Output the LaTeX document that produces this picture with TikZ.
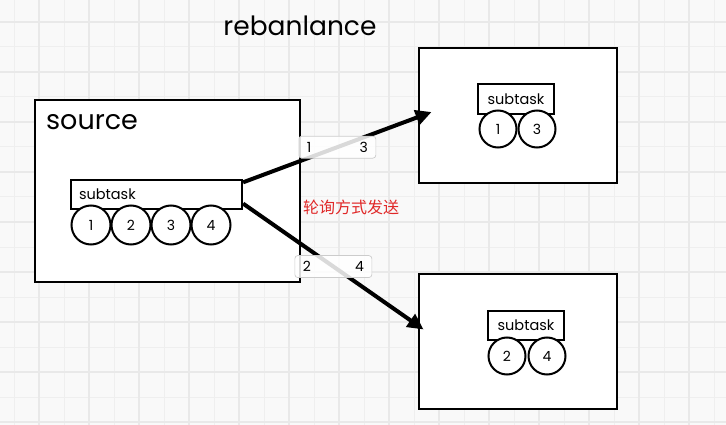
\documentclass[tikz,border=0pt]{standalone}
\usepackage{fontspec}
\setmainfont{Poppins}
\newfontfamily\cjk{Noto Sans CJK SC}
\usetikzlibrary{arrows.meta,positioning}

\definecolor{paper}{HTML}{F9F9F9}
\definecolor{gridthin}{HTML}{EFEFEF}
\definecolor{gridthick}{HTML}{E9E9E9}
\definecolor{notered}{HTML}{E02828}

\begin{document}
\begin{tikzpicture}[
    x=1pt, y=-1pt,
    frame/.style={draw=black, line width=2.8pt, fill=white, inner sep=0pt},
    taskbar/.style={draw=black, line width=2.2pt, fill=white, minimum height=29pt, inner sep=0pt, font=\fontsize{14.5}{14.5}\selectfont},
    slot/.style={circle, draw=black, line width=2pt, fill=white, inner sep=0pt, outer sep=0pt, font=\fontsize{14}{14}\selectfont},
    send/.style={line width=4pt, -{Triangle[length=16pt,width=15pt]}},
    tag/.style={draw=black!20, line width=0.7pt, fill=white, fill opacity=0.85, text opacity=1, rounded corners=3pt, minimum width=77pt, minimum height=22pt, inner sep=0pt, font=\fontsize{14}{14}\selectfont},
]

% Paper with grid
\useasboundingbox (0,0) rectangle (726,425);
\fill[paper] (0,0) rectangle (726,425);
\begin{scope}
  \clip (0,0) rectangle (726,425);
  \draw[gridthin, line width=1pt, shift={(14,22)}] (-25,-25) grid[step=25pt] (725,425);
  \draw[gridthick, line width=2pt, shift={(39,22)}] (-50,-50) grid[step=50pt] (700,425);
\end{scope}

% Title
\node[font=\fontsize{26.5}{26.5}\selectfont] (title) at (300,26) {rebanlance};

% Source side
\node[frame, minimum width=265pt, minimum height=182pt] (src) at (167.5,191) {};
\node[anchor=base west, font=\fontsize{27}{27}\selectfont] (srclabel) at ([xshift=9pt,yshift=-31pt]src.north west) {source};
\node[taskbar, minimum width=171pt, text width=155pt, inner xsep=8pt, align=left] (sbar) at (156.5,194.5) {subtask};
\node[slot, minimum size=39pt] (s1) at (91,225) {1};
\node[slot, minimum size=39pt, right=1pt of s1] (s2) {2};
\node[slot, minimum size=39pt, right=1pt of s2] (s3) {3};
\node[slot, minimum size=39pt, right=1pt of s3] (s4) {4};

% Upper target
\node[frame, minimum width=198pt, minimum height=135pt] (t1) at (518,115.5) {};
\node[taskbar, minimum width=76pt, minimum height=30pt] (t1bar) at (516,99) {subtask};
\node[slot, minimum size=37pt] (a1) at (498,129) {1};
\node[slot, minimum size=37pt, right=2pt of a1] (a3) {3};

% Lower target
\node[frame, minimum width=198pt, minimum height=135pt] (t2) at (518,341.5) {};
\node[taskbar, minimum width=76pt] (t2bar) at (526,325.5) {subtask};
\node[slot, minimum size=37pt] (b2) at (507,356) {2};
\node[slot, minimum size=37pt, right=3pt of b2] (b4) {4};

% Round-robin connectors
\coordinate (in1) at ([xshift=14pt,yshift=3.5pt]t1.west);
\coordinate (in2) at ([xshift=6pt,yshift=12pt]t2.west);
\draw[send] (sbar.8) -- (in1) node[tag, midway] (lab1) {\makebox[61pt]{1\hfill 3}};
\draw[send] (sbar.-6) -- (in2) node[tag, midway] (lab2) {\makebox[61pt]{2\hfill 4}};

\node[font=\cjk\fontsize{16}{16}\selectfont, text=notered] (note) at (351,207) {轮询方式发送};

\end{tikzpicture}
\end{document}
